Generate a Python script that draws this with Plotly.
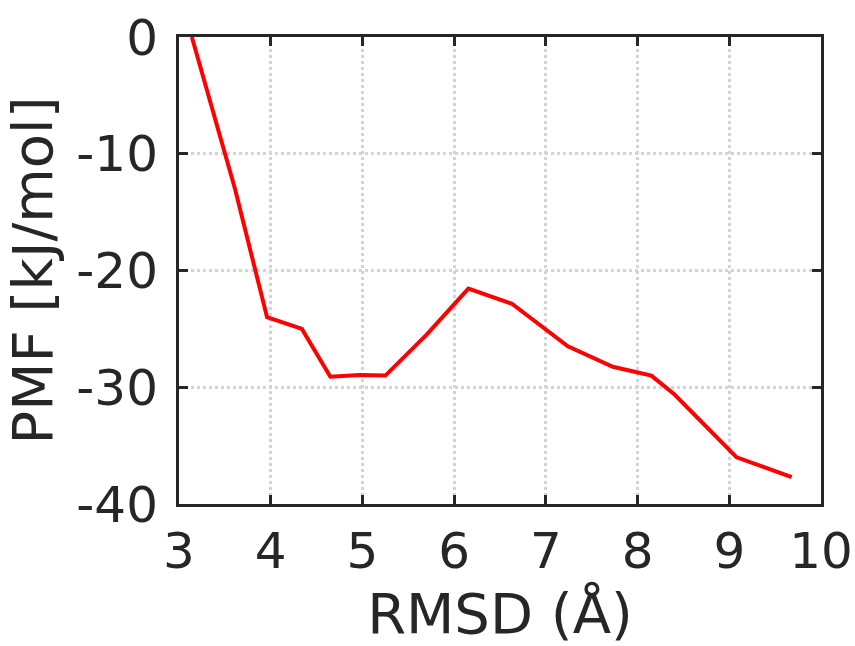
import plotly.graph_objects as go

rmsd = [3.14, 3.61, 3.96, 4.34, 4.65, 4.97, 5.25, 5.70, 6.155, 6.63, 7.24, 7.73, 8.15, 8.40, 9.08, 9.68]
pmf = [0.0, -13.0, -24.0, -25.0, -29.1, -28.95, -29.0, -25.5, -21.55, -22.85, -26.5, -28.25, -29.0, -30.6, -36.0, -37.7]

xticks = [3, 4, 5, 6, 7, 8, 9, 10]
yticks = [0, -10, -20, -30, -40]

axis_color = "#262626"
font_family = "DejaVu Sans"

fig = go.Figure()
fig.add_trace(go.Scatter(x=rmsd, y=pmf, mode="lines",
                         line=dict(color="#ff0000", width=4), showlegend=False))

common = dict(
    showline=True, linecolor=axis_color, linewidth=3, mirror="ticks",
    ticks="inside", ticklen=9, tickwidth=3, tickcolor=axis_color,
    showgrid=True, gridcolor="#d4d4d4", gridwidth=2.5, griddash="dot",
    zeroline=False,
    tickfont=dict(family=font_family, size=50, color=axis_color),
)

fig.update_xaxes(range=[3, 10], tickvals=xticks, ticktext=[str(v) for v in xticks],
                 title=dict(text="RMSD (Å)", font=dict(family=font_family, size=56, color=axis_color),
                            standoff=20),
                 ticklabelstandoff=1,
                 **common)
fig.update_yaxes(range=[-40, 0], tickvals=yticks, ticktext=[str(v) for v in yticks],
                 title=dict(text="PMF [kJ/mol]", font=dict(family=font_family, size=56, color=axis_color),
                            standoff=14),
                 ticklabelstandoff=8,
                 **common)

fig.update_layout(
    width=855, height=646,
    margin=dict(l=179, r=34, t=37, b=142, autoexpand=False),
    paper_bgcolor="white", plot_bgcolor="white",
)

fig.write_html("out.html")
